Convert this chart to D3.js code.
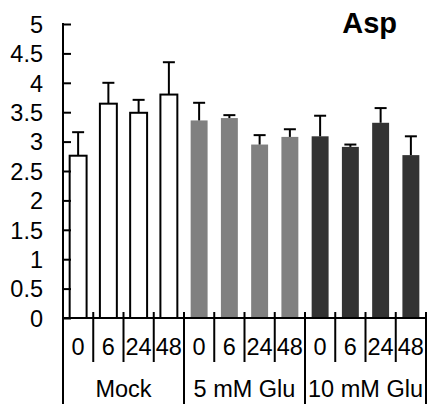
<!DOCTYPE html>
<html>
<head>
<meta charset="utf-8">
<script src="https://cdnjs.cloudflare.com/ajax/libs/d3/7.8.5/d3.min.js"></script>
<style>
  body { margin: 0; background: #fff; }
  svg text { font-family: "Liberation Sans", Arial, sans-serif; fill: #000; }
</style>
</head>
<body>
<div id="chart"></div>
<script>
// Asp level, three treatments x four time points
var groups = ["Mock", "5 mM Glu", "10 mM Glu"];
var times = ["0", "6", "24", "48"];
var means = [2.76, 3.645, 3.49, 3.80, 3.36, 3.40, 2.95, 3.08, 3.09, 2.91, 3.32, 2.77];
var errors = [0.40, 0.355, 0.22, 0.55, 0.30, 0.05, 0.16, 0.13, 0.35, 0.04, 0.25, 0.32];
var groupColors = ["#ffffff", "#808080", "#333333"];
var yTicks = [0, 0.5, 1, 1.5, 2, 2.5, 3, 3.5, 4, 4.5, 5];

var W = 427, H = 407;
var plotLeft = 63, plotRight = 426, plotTop = 24, base = 318, axisBottom = 404;
var fontSize = "23.5px";

var svg = d3.select("#chart").append("svg")
    .attr("width", W)
    .attr("height", H);

var data = [];
groups.forEach(function(g, gi) {
    times.forEach(function(t, ti) {
        var i = gi * times.length + ti;
        data.push({group: gi, time: t, mean: means[i], err: errors[i], idx: i});
    });
});

var x = d3.scaleBand()
    .domain(d3.range(data.length))
    .range([plotLeft, plotRight])
    .padding(0);

var y = d3.scaleLinear()
    .domain([0, 5])
    .range([base, plotTop]);

var barW = x.bandwidth() * 0.56;

// bars
svg.selectAll("rect.bar")
    .data(data)
    .enter()
    .append("rect")
    .attr("class", "bar")
    .attr("x", function(d) { return x(d.idx) + (x.bandwidth() - barW) / 2; })
    .attr("y", function(d) { return y(d.mean); })
    .attr("width", barW)
    .attr("height", function(d) { return y(0) - y(d.mean); })
    .attr("fill", function(d) { return groupColors[d.group]; })
    .attr("stroke", function(d) { return d.group === 0 ? "#000" : "none"; })
    .attr("stroke-width", 2);

// error bars (upper only)
var cx = function(d) { return x(d.idx) + x.bandwidth() / 2; };
svg.selectAll("line.err")
    .data(data)
    .enter()
    .append("line")
    .attr("class", "err")
    .attr("x1", cx).attr("x2", cx)
    .attr("y1", function(d) { return y(d.mean); })
    .attr("y2", function(d) { return y(d.mean + d.err); })
    .attr("stroke", "#000")
    .attr("stroke-width", 2);

svg.selectAll("line.cap")
    .data(data)
    .enter()
    .append("line")
    .attr("class", "cap")
    .attr("x1", function(d) { return cx(d) - 6; })
    .attr("x2", function(d) { return cx(d) + 6; })
    .attr("y1", function(d) { return y(d.mean + d.err); })
    .attr("y2", function(d) { return y(d.mean + d.err); })
    .attr("stroke", "#000")
    .attr("stroke-width", 2);

// y axis
var yAxis = d3.axisLeft(y)
    .tickValues(yTicks)
    .tickFormat(function(d) { return d; })
    .tickSizeInner(-8)
    .tickSizeOuter(0)
    .tickPadding(20);

var ya = svg.append("g")
    .attr("transform", "translate(" + plotLeft + ",0)")
    .call(yAxis);
ya.select(".domain").remove();
ya.selectAll(".tick line").attr("stroke", "#000").attr("stroke-width", 2);
ya.selectAll(".tick text")
    .style("font-size", fontSize)
    .attr("dy", "0.35em");

svg.append("line")
    .attr("x1", plotLeft).attr("x2", plotLeft)
    .attr("y1", plotTop - 1).attr("y2", axisBottom)
    .attr("stroke", "#000").attr("stroke-width", 2);

// x axis baseline
svg.append("line")
    .attr("x1", plotLeft).attr("x2", plotRight)
    .attr("y1", base).attr("y2", base)
    .attr("stroke", "#000").attr("stroke-width", 2);

// category dividers
var bounds = d3.range(1, data.length + 1);
svg.selectAll("line.div")
    .data(bounds)
    .enter()
    .append("line")
    .attr("class", "div")
    .attr("x1", function(i) { return i === data.length ? plotRight : x(i); })
    .attr("x2", function(i) { return i === data.length ? plotRight : x(i); })
    .attr("y1", base - 6)
    .attr("y2", function(i) { return i % times.length === 0 ? axisBottom : 362; })
    .attr("stroke", "#000")
    .attr("stroke-width", 2);

// time labels
svg.selectAll("text.time")
    .data(data)
    .enter()
    .append("text")
    .attr("class", "time")
    .attr("x", cx)
    .attr("y", 355)
    .attr("text-anchor", "middle")
    .style("font-size", fontSize)
    .text(function(d) { return d.time; });

// group labels
svg.selectAll("text.group")
    .data(groups)
    .enter()
    .append("text")
    .attr("class", "group")
    .attr("x", function(g, gi) {
        return (x(gi * times.length) + x(gi * times.length + times.length - 1) + x.bandwidth()) / 2;
    })
    .attr("y", 397)
    .attr("text-anchor", "middle")
    .style("font-size", fontSize)
    .text(function(g) { return g; });

// title
svg.append("text")
    .attr("x", 397)
    .attr("y", 33)
    .attr("text-anchor", "end")
    .style("font-size", "29px")
    .style("font-weight", "bold")
    .text("Asp");
</script>
</body>
</html>
